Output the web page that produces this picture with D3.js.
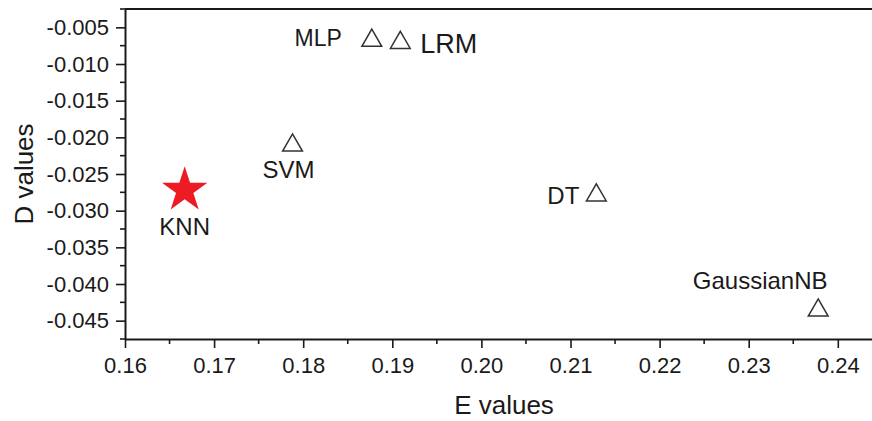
<!DOCTYPE html>
<html>
<head>
<meta charset="utf-8">
<script src="https://cdn.jsdelivr.net/npm/d3@7"></script>
<style>
  body { margin: 0; background: #fff; }
  svg { display: block; font-family: Arial, "Liberation Sans", sans-serif; }
</style>
</head>
<body>
<svg id="chart"></svg>
<script>
// models and their E / D values
const models = ['KNN', 'SVM', 'MLP', 'LRM', 'DT', 'GaussianNB'];
const eValues = [0.1667, 0.1788, 0.1877, 0.1909, 0.2129, 0.2378];
const dValues = [-0.0272, -0.0211, -0.0068, -0.0071, -0.0279, -0.0436];
const xTicks = [0.16, 0.17, 0.18, 0.19, 0.20, 0.21, 0.22, 0.23, 0.24];
const yTicks = [-0.005, -0.010, -0.015, -0.020, -0.025, -0.030, -0.035, -0.040, -0.045];

const dim = { width: 872, height: 421 };
const margin = { top: 9, left: 125, bottom: 82 };
const ink = '#1a1a1a';

// label placement per model: [dx, dy, anchor, font size]
const labelPos = {
  KNN: [0, 45, 'middle', 24],
  SVM: [-4, 33, 'middle', 24],
  MLP: [-30, 5, 'end', 23],
  LRM: [20, 10, 'start', 27],
  DT: [-17, 9, 'end', 24],
  GaussianNB: [-58, -21, 'middle', 24],
};

const svg = d3.select('#chart')
  .attr('width', dim.width)
  .attr('height', dim.height);

const x = d3.scaleLinear()
  .domain([0.16, 0.245])
  .range([margin.left, margin.left + 8.5 * 89.1]);

const y = d3.scaleLinear()
  .domain([-0.0475, -0.0025])
  .range([dim.height - margin.bottom, margin.top]);

const fmtX = d3.format('.2f');
// plain hyphen instead of d3's unicode minus
const fmtY = (v) => d3.format('.3f')(v).replace('\u2212', '-');

// bottom axis
const xAxis = svg.append('g')
  .attr('transform', `translate(0,${y.range()[0]})`)
  .call(d3.axisBottom(x).tickValues(xTicks).tickFormat(fmtX).tickSizeInner(9).tickSizeOuter(0).tickPadding(9));
xAxis.selectAll('.tick line').attr('stroke', ink).attr('stroke-width', 1.6);
xAxis.selectAll('text').attr('fill', ink).style('font-size', '22px');
xAxis.select('.domain').attr('stroke', ink).attr('stroke-width', 2);
xAxis.selectAll('.minor')
  .data(xTicks.map((t) => t + 0.005))
  .join('line')
  .attr('class', 'minor')
  .attr('x1', (d) => x(d)).attr('x2', (d) => x(d))
  .attr('y1', 0).attr('y2', 5)
  .attr('stroke', ink).attr('stroke-width', 1.6);

// left axis
const yAxis = svg.append('g')
  .attr('transform', `translate(${margin.left},0)`)
  .call(d3.axisLeft(y).tickValues(yTicks).tickFormat(fmtY).tickSizeInner(9).tickSizeOuter(0).tickPadding(7));
yAxis.selectAll('.tick line').attr('stroke', ink).attr('stroke-width', 1.6);
yAxis.selectAll('text').attr('fill', ink).style('font-size', '22px');
yAxis.select('.domain').attr('stroke', ink).attr('stroke-width', 2);
yAxis.selectAll('.minor')
  .data(yTicks.map((t) => t - 0.0025).concat([-0.0025]))
  .join('line')
  .attr('class', 'minor')
  .attr('x1', 0).attr('x2', -5)
  .attr('y1', (d) => y(d)).attr('y2', (d) => y(d))
  .attr('stroke', ink).attr('stroke-width', 1.6);

// top frame line
svg.append('line')
  .attr('x1', margin.left).attr('x2', x.range()[1])
  .attr('y1', y.range()[1]).attr('y2', y.range()[1])
  .attr('stroke', ink).attr('stroke-width', 2);

// axis titles
svg.append('text')
  .attr('x', 504).attr('y', 414)
  .attr('text-anchor', 'middle')
  .attr('fill', ink)
  .style('font-size', '26px')
  .text('E values');

svg.append('text')
  .attr('transform', 'translate(33,174) rotate(-90)')
  .attr('text-anchor', 'middle')
  .attr('fill', ink)
  .style('font-size', '26px')
  .text('D values');

// points
const points = models.map((m, i) => ({ name: m, e: eValues[i], d: dValues[i] }));

svg.append('g')
  .selectAll('path')
  .data(points)
  .join('path')
  .attr('transform', (d) => `translate(${x(d.e)},${y(d.d)})`)
  .attr('d', (d) => (d.name === 'KNN'
    ? d3.symbol(d3.symbolStar, 640)()
    : d3.symbol(d3.symbolTriangle, 170)()))
  .attr('fill', (d) => (d.name === 'KNN' ? '#ed1c24' : 'none'))
  .attr('stroke', (d) => (d.name === 'KNN' ? 'none' : '#333'))
  .attr('stroke-width', 1.5);

svg.append('g')
  .selectAll('text')
  .data(points)
  .join('text')
  .attr('x', (d) => x(d.e) + labelPos[d.name][0])
  .attr('y', (d) => y(d.d) + labelPos[d.name][1])
  .attr('text-anchor', (d) => labelPos[d.name][2])
  .attr('fill', ink)
  .style('font-size', (d) => `${labelPos[d.name][3]}px`)
  .text((d) => d.name);
</script>
</body>
</html>
